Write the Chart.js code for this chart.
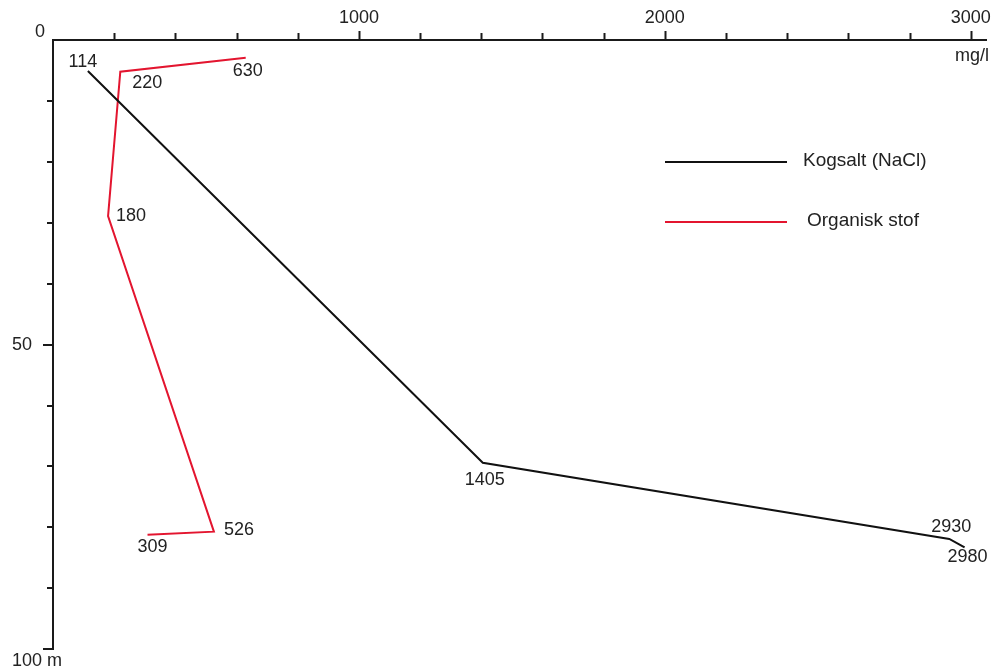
<!DOCTYPE html>
<html>
<head>
<meta charset="utf-8">
<title>Kogsalt og organisk stof</title>
<script src="https://cdn.jsdelivr.net/npm/chart.js@4.4.1/dist/chart.umd.min.js"></script>
<style>
  html, body { margin: 0; padding: 0; background: #fff; }
  #wrap { width: 996px; height: 671px; }
</style>
</head>
<body>
<div id="wrap"><canvas id="profil" width="996" height="671"></canvas></div>
<script>
        // koncentration (mg/l) og dybde (m)
        const saltConc = [114, 1405, 2930, 2980];
        const saltDepth = [5.1, 69.4, 81.9, 83.3];
        const orgConc = [630, 220, 180, 526, 309];
        const orgDepth = [2.9, 5.2, 28.9, 80.7, 81.2];

        const xTickLabels = [1000, 2000, 3000];
        const seriesNames = ['Kogsalt (NaCl)', 'Organisk stof'];

        const FONT = '"Liberation Sans", Arial, sans-serif';
        const TEXT = '#222';

        // placering af værdi-tekster i forhold til punktet (px)
        const saltLabelOffsets = [[-5, -9], [2, 17], [2, -12], [3, 10]];
        const orgLabelOffsets = [[2, 13], [27, 11], [23, 0], [25, -2], [5, 12]];

        function toPoints(xs, ys) {
            return xs.map((x, i) => ({ x: x, y: ys[i] }));
        }

        // tegner tickmærker, hjørnetekster, forklaring og værdier
        const profilDecor = {
            id: 'profilDecor',
            afterDraw(chart) {
                const ctx = chart.ctx;
                const xs = chart.scales.x;
                const ys = chart.scales.y;
                const top = xs.bottom;
                const left = ys.right;

                ctx.save();
                ctx.strokeStyle = '#1a1a1a';
                ctx.lineWidth = 2;

                // tickmærker på x-aksen (opad)
                for (let v = 200; v <= 3000; v += 200) {
                    const px = Math.round(xs.getPixelForValue(v)) + 0.5;
                    const len = v % 1000 === 0 ? 9 : 7;
                    ctx.beginPath();
                    ctx.moveTo(px, top);
                    ctx.lineTo(px, top - len);
                    ctx.stroke();
                }
                // tickmærker på dybdeaksen (mod venstre)
                for (let d = 10; d <= 100; d += 10) {
                    const py = Math.round(ys.getPixelForValue(d));
                    const len = d % 50 === 0 ? 10 : 6;
                    ctx.beginPath();
                    ctx.moveTo(left, py);
                    ctx.lineTo(left - len, py);
                    ctx.stroke();
                }

                ctx.fillStyle = TEXT;
                ctx.font = '18px ' + FONT;
                ctx.textBaseline = 'middle';
                ctx.textAlign = 'center';
                ctx.fillText('0', left - 13, top - 8);
                ctx.fillText('100 m', left - 16, ys.getPixelForValue(100) + 12);
                ctx.textAlign = 'right';
                ctx.fillText('mg/l', xs.right + 3, top + 16);

                // forklaring
                const legendY = [162, 222];
                ctx.font = '19px ' + FONT;
                chart.data.datasets.forEach((ds, i) => {
                    ctx.strokeStyle = ds.borderColor;
                    ctx.lineWidth = 2;
                    ctx.beginPath();
                    ctx.moveTo(665, legendY[i]);
                    ctx.lineTo(787, legendY[i]);
                    ctx.stroke();
                    ctx.fillStyle = TEXT;
                    ctx.textAlign = 'left';
                    ctx.fillText(ds.label, i === 0 ? 803 : 807, legendY[i] - 1);
                });

                // værdier ved knækpunkterne
                ctx.font = '18px ' + FONT;
                ctx.textAlign = 'center';
                chart.data.datasets.forEach((ds, i) => {
                    const meta = chart.getDatasetMeta(i);
                    meta.data.forEach((pt, j) => {
                        const off = ds.labelOffsets[j];
                        ctx.fillText(String(ds.data[j].x), pt.x + off[0], pt.y + off[1]);
                    });
                });
                ctx.restore();
            }
        };

        const ctx = document.getElementById('profil').getContext('2d');
        const profilChart = new Chart(ctx, {
            type: 'scatter',
            data: {
                datasets: [{
                    label: seriesNames[0],
                    data: toPoints(saltConc, saltDepth),
                    showLine: true,
                    borderColor: '#111111',
                    borderWidth: 2,
                    pointRadius: 0,
                    tension: 0,
                    labelOffsets: saltLabelOffsets
                }, {
                    label: seriesNames[1],
                    data: toPoints(orgConc, orgDepth),
                    showLine: true,
                    borderColor: '#e3152f',
                    borderWidth: 2,
                    pointRadius: 0,
                    tension: 0,
                    labelOffsets: orgLabelOffsets
                }]
            },
            options: {
                responsive: false,
                animation: false,
                layout: { padding: { left: 0, top: 0, right: 10, bottom: 21 } },
                plugins: {
                    legend: { display: false },
                    tooltip: { enabled: false }
                },
                scales: {
                    x: {
                        type: 'linear',
                        position: 'top',
                        min: 0,
                        max: 3050,
                        afterFit(scale) { scale.height = 40; },
                        // kun de tusinde med tal
                        afterBuildTicks(scale) {
                            scale.ticks = xTickLabels.map(v => ({ value: v }));
                        },
                        grid: { display: false, drawTicks: true, tickLength: 8 },
                        border: { display: true, color: '#1a1a1a', width: 2 },
                        ticks: {
                            autoSkip: false,
                            maxRotation: 0,
                            padding: 3,
                            color: TEXT,
                            font: { family: FONT, size: 18 },
                            callback: v => String(v)
                        }
                    },
                    y: {
                        type: 'linear',
                        reverse: true,
                        min: 0,
                        max: 100,
                        afterFit(scale) { scale.width = 53; },
                        grid: { display: false, drawTicks: true, tickLength: 10 },
                        border: { display: true, color: '#1a1a1a', width: 2 },
                        ticks: {
                            stepSize: 10,
                            autoSkip: false,
                            padding: 11,
                            color: TEXT,
                            font: { family: FONT, size: 18 },
                            callback: v => v === 50 ? '50' : ''
                        }
                    }
                }
            },
            plugins: [profilDecor]
        });
</script>
</body>
</html>
